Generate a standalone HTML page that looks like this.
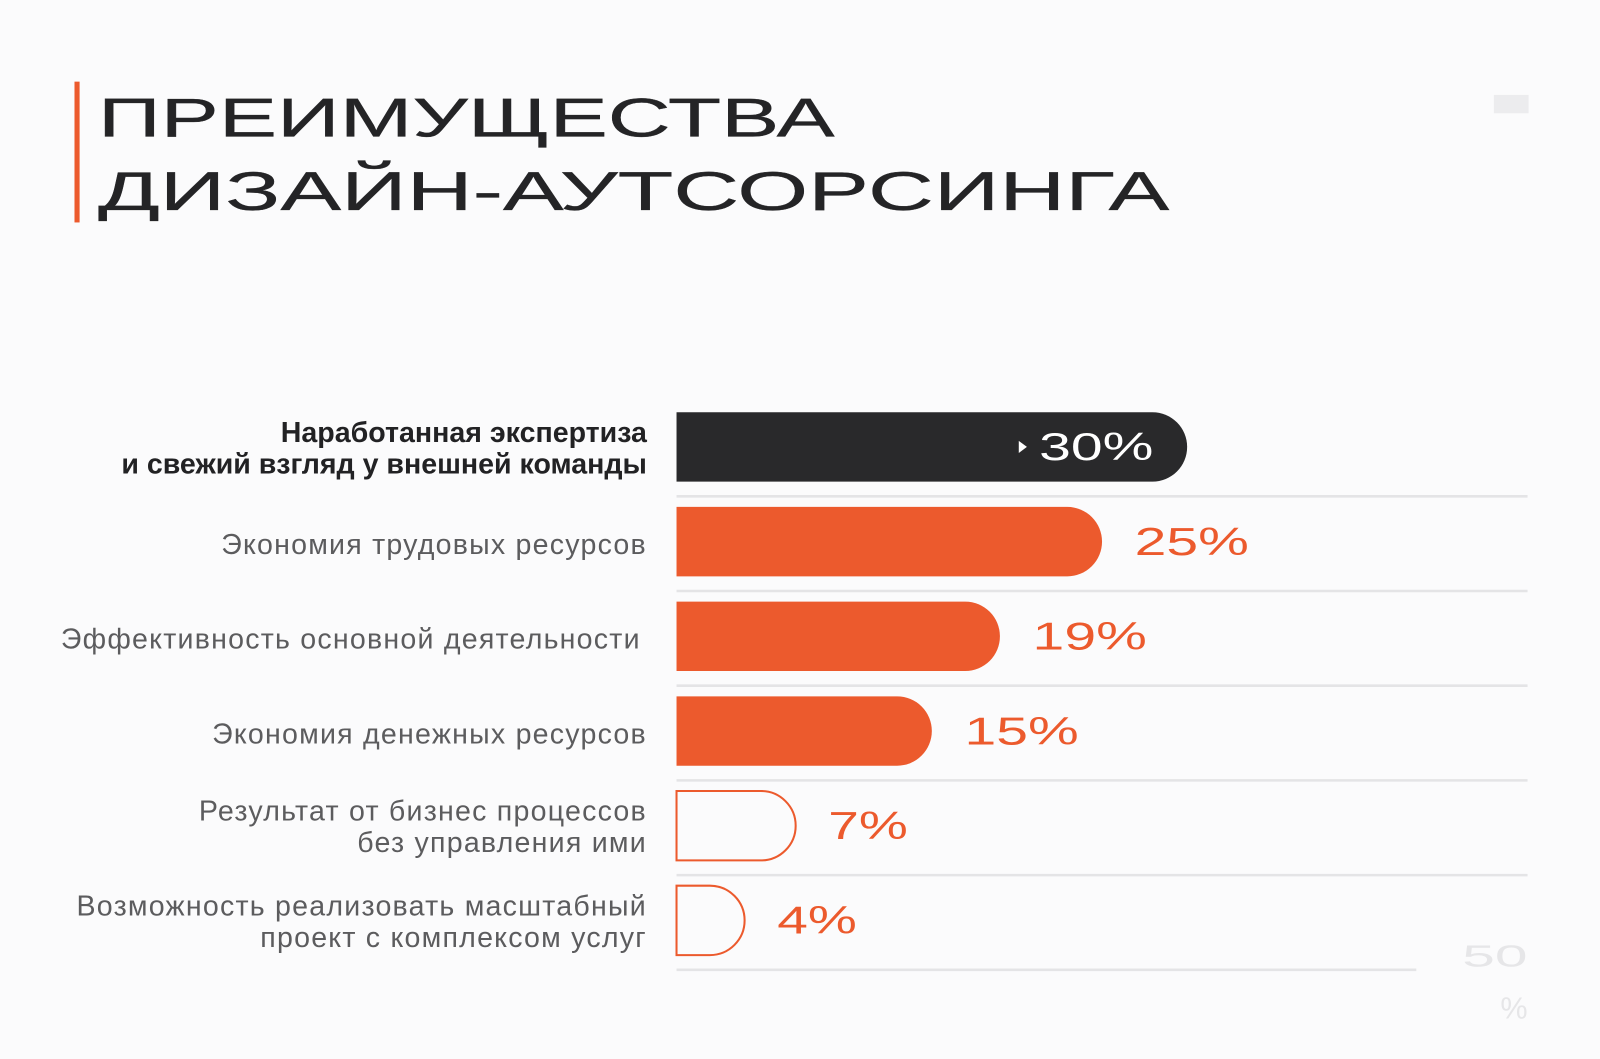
<!DOCTYPE html>
<html><head><meta charset="utf-8"><style>
html,body{margin:0;padding:0;background:#fbfbfc;}
svg{display:block;}
</style></head><body>
<svg id="chart" width="1600" height="1059" viewBox="0 0 1600 1059" xmlns="http://www.w3.org/2000/svg" font-family="'Liberation Sans', 'Noto Sans CJK SC', sans-serif">
<rect width="1600" height="1059" fill="#fbfbfc"/>
<g transform="scale(1.0204)">
<rect x="73" y="80" width="5" height="138" fill="#ec5a2d"/>
<g fill="#242426" font-size="54" stroke="#242426" stroke-width="0.3">
<text x="96" y="134" textLength="722" lengthAdjust="spacingAndGlyphs">ПРЕИМУЩЕСТВА</text>
<text x="96" y="206" textLength="1050" lengthAdjust="spacingAndGlyphs">ДИЗАЙН-АУТСОРСИНГА</text>
</g>
<rect x="1464" y="93" width="34" height="18" fill="#ececee"/>
<g id="grid"></g>
<g id="bars"></g>
<g id="labels"></g>
<text x="1497" y="947" text-anchor="end" font-size="30" fill="#e6e6e8" textLength="64" lengthAdjust="spacingAndGlyphs">50</text>
<text x="1497" y="998" text-anchor="end" font-size="30" fill="#e6e6e8">%</text>
</g>
</svg>
<script>
const categories = [
  ["Наработанная экспертиза","и свежий взгляд у внешней команды"],
  ["Экономия трудовых ресурсов"],
  ["Эффективность основной деятельности"],
  ["Экономия денежных ресурсов"],
  ["Результат от бизнес процессов","без управления ими"],
  ["Возможность реализовать масштабный","проект с комплексом услуг"]
];
const values = [30, 25, 19, 15, 7, 4];
const valueLabels = ["30%","25%","19%","15%","7%","4%"];
const styles = ["dark","fill","fill","fill","outline","outline"];
const axisMax = 50;

const NS = "http://www.w3.org/2000/svg";
const x0 = 663, x1 = 1497, rowTop = 392, rowH = 92.8, barH = 68;
const xScale = v => x0 + (x1 - x0) * v / axisMax;
const yCenter = i => rowTop + rowH * i + 46;
function mk(tag, attrs, parent) {
  const e = document.createElementNS(NS, tag);
  for (const k in attrs) e.setAttribute(k, attrs[k]);
  parent.appendChild(e);
  return e;
}
const grid = document.getElementById('grid');
const bars = document.getElementById('bars');
const labels = document.getElementById('labels');
values.forEach((v, i) => {
  const cy = yCenter(i);
  const ly = cy + rowH / 2 + 2;
  const gl = mk('line', {x1: x0, x2: i === values.length - 1 ? 1388 : x1, y1: ly, y2: ly, stroke: '#e4e4e6', 'stroke-width': 2.5}, grid);
  
  
  const xe = xScale(v);
  const r = barH / 2;
  const top = cy - r, bot = cy + r;
  const d = `M${x0},${top} H${xe - r} A${r},${r} 0 0 1 ${xe - r},${bot} H${x0} Z`;
  const s = styles[i];
  const p = mk('path', {d: d,
    fill: s === 'dark' ? '#29292b' : s === 'fill' ? '#ec5a2d' : 'none',
    stroke: s === 'outline' ? '#ec5a2d' : 'none', 'stroke-width': 2}, bars);
  
  
  const len = valueLabels[i].length === 3 ? 112 : 78;
  let tx;
  if (s === 'dark') {
    tx = xe - 33 - len;
    const tri = mk('path', {d: `M${tx - 20},${cy - 6} L${tx - 12},${cy} L${tx - 20},${cy + 6} Z`, fill: '#fff'}, bars);
    
    
  } else {
    tx = xe + 32;
  }
  const vt = mk('text', {x: tx, y: cy + 13, 'font-size': 38, fill: s === 'dark' ? '#ffffff' : '#ec5a2d',
    textLength: len, lengthAdjust: 'spacingAndGlyphs'}, labels);
  vt.textContent = valueLabels[i];
  
  
  const lines = categories[i];
  lines.forEach((ln, j) => {
    const yy = lines.length === 1 ? cy + 12 : cy - 5 + j * 31;
    const t = mk('text', {x: i === 2 ? 628 : 634, y: yy, 'text-anchor': 'end', 'font-size': 28,
      'letter-spacing': i === 0 ? 0 : 1.2,
      fill: i === 0 ? '#222224' : '#5c5c5e', 'font-weight': i === 0 ? 'bold' : 'normal'}, labels);
    t.textContent = ln;
    
    
  });
});
</script>
</body></html>
